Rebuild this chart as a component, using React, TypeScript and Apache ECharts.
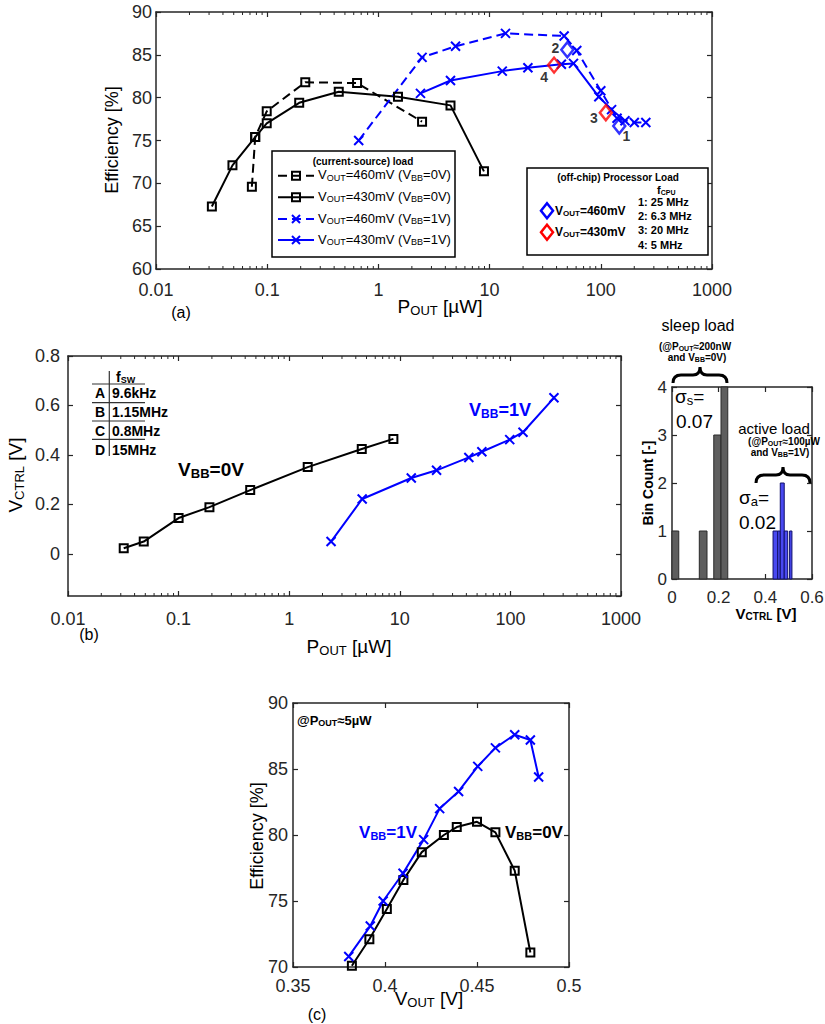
import React, { useEffect, useRef } from "react";
import * as echarts from "echarts";

const FONT = "'Liberation Sans', Arial, Helvetica, sans-serif";
const BLUE = "#0000ff";
const BLACK = "#000000";
const RED = "#ff0000";
const AX = "#262626";

// ---------- (a) Efficiency [%] vs P_OUT [µW]
const aV460B0: number[][] = [[0.0728, 69.6], [0.078, 75.4], [0.099, 78.4], [0.22, 81.8], [0.643, 81.7], [2.47, 77.2]];
const aV430B0: number[][] = [[0.0318, 67.3], [0.0487, 72.1], [0.078, 75.4], [0.099, 77.0], [0.194, 79.4], [0.44, 80.7], [1.5, 80.1], [4.45, 79.1], [8.9, 71.4]];
const aV460B1: number[][] = [[0.665, 75.0], [2.47, 84.7], [4.94, 86.0], [13.9, 87.5], [46.8, 87.2], [60.8, 85.5], [100, 80.8], [140, 77.6], [200, 77.1], [254, 77.1]];
const aV430B1: number[][] = [[2.39, 80.5], [4.45, 82.0], [13.0, 83.1], [22.1, 83.5], [44.2, 83.9], [56.8, 84.0], [96, 80.1], [125, 78.6], [165, 77.3]];
const aProc460: number[][] = [[146.6, 76.7], [50, 85.6]];
const aProc460Names = ["1", "2"];
const aProc430: number[][] = [[111, 78.25], [38, 83.8]];
const aProc430Names = ["3", "4"];
const procLabelOffsets: Record<string, number[]> = { "1": [7, 10], "2": [-12, -2], "3": [-12, 5], "4": [-10, 12] };

// ---------- (b) V_CTRL [V] vs P_OUT [µW]
const bVbb0: number[][] = [[0.0319, 0.023], [0.0484, 0.05], [0.1, 0.145], [0.19, 0.189], [0.444, 0.258], [1.47, 0.351], [4.53, 0.424], [8.75, 0.465]];
const bVbb1: number[][] = [[2.39, 0.05], [4.57, 0.222], [12.7, 0.307], [21.5, 0.338], [42.1, 0.39], [55.2, 0.413], [98.6, 0.462], [130, 0.492], [247.6, 0.631]];

// ---------- histogram [binStart, binEnd, count]
const sleepBins: number[][] = [[0, 0.029, 1], [0.117, 0.15, 1], [0.179, 0.21, 3], [0.21, 0.239, 4]];
const activeBins: number[][] = [[0.433, 0.453, 1], [0.453, 0.464, 1], [0.464, 0.481, 2], [0.481, 0.496, 1], [0.504, 0.514, 1]];

// ---------- (c) Efficiency [%] vs V_OUT [V]
const cVoutB0 = [0.382, 0.3915, 0.401, 0.41, 0.42, 0.432, 0.439, 0.45, 0.46, 0.4705, 0.479];
const cEffB0 = [70.1, 72.1, 74.4, 76.6, 78.7, 80.0, 80.6, 81.0, 80.2, 77.3, 71.1];
const cVoutB1 = [0.3803, 0.392, 0.399, 0.4098, 0.421, 0.4297, 0.44, 0.4504, 0.46, 0.4705, 0.479, 0.4835];
const cEffB1 = [70.8, 73.1, 75.0, 77.1, 79.65, 82.0, 83.3, 85.2, 86.6, 87.6, 87.2, 84.4];

const minorLogValues: number[] = [];
for (let k = -2; k <= 2; k++) for (let m = 2; m <= 9; m++) minorLogValues.push(parseFloat((m * Math.pow(10, k)).toPrecision(3)));

let shapesRegistered = false;
function registerShapes() {
  if (shapesRegistered) return;
  shapesRegistered = true;
  echarts.graphic.registerShape(
    "brace",
    echarts.graphic.extendPath("M0,16 Q0,8 8,8 L20,8 Q27,8 27,0 Q27,8 34,8 L46,8 Q54,8 54,16", {}) as any
  );
}

const mkRich = (size: number, bold: boolean, color: string) => ({
  m: { fontSize: size, fontFamily: FONT, fontWeight: bold ? "bold" : "normal", fill: color },
  s: {
    fontSize: Math.round(size * 0.66),
    fontFamily: FONT,
    fontWeight: bold ? "bold" : "normal",
    fill: color,
    padding: [Math.round(size * 0.45), 0, 0, 0],
  },
});

type TO = { bold?: boolean; color?: string; align?: string; rot?: number };
const txt = (x: number, y: number, text: string, size: number, o: TO = {}) => ({
  type: "text",
  x,
  y,
  rotation: o.rot || 0,
  z: 100,
  silent: true,
  style: {
    text,
    fill: o.color || "#000",
    fontSize: size,
    fontFamily: FONT,
    fontWeight: o.bold ? "bold" : "normal",
    align: o.align || "center",
    textAlign: o.align || "center",
    verticalAlign: "middle",
    textVerticalAlign: "middle",
    rich: mkRich(size, !!o.bold, o.color || "#000"),
  },
});

const gline = (x1: number, y1: number, x2: number, y2: number, stroke: string, lw: number, dash?: number[]) => ({
  type: "line",
  z: 100,
  silent: true,
  shape: { x1, y1, x2, y2 },
  style: { stroke, lineWidth: lw, lineDash: dash },
});

const xMark = (cx: number, cy: number, color: string) => ({
  type: "group",
  z: 100,
  children: [gline(cx - 4, cy - 4, cx + 4, cy + 4, color, 2), gline(cx + 4, cy - 4, cx - 4, cy + 4, color, 2)],
});
const sqMark = (cx: number, cy: number) => ({
  type: "rect",
  z: 101,
  shape: { x: cx - 4, y: cy - 4, width: 8, height: 8 },
  style: { fill: "none", stroke: BLACK, lineWidth: 2 },
});
const diaMark = (cx: number, cy: number, color: string) => ({
  type: "polygon",
  z: 101,
  shape: { points: [[cx, cy - 7.5], [cx + 6, cy], [cx, cy + 7.5], [cx - 6, cy]] },
  style: { fill: "none", stroke: color, lineWidth: 2.5 },
});

const axLine = { show: true, onZero: false, lineStyle: { color: AX, width: 1.5 } };
const axTick = { show: true, inside: true, length: 5, lineStyle: { color: AX, width: 1.2 } };
const logFmt = (v: number) => String(parseFloat(Number(v).toPrecision(3)));

function xPair(grid: number, base: any, margin: number, size: number, fmt?: any) {
  return [
    {
      ...base,
      gridIndex: grid,
      position: "bottom",
      axisLine: axLine,
      axisTick: axTick,
      splitLine: { show: false },
      minorTick: { show: false },
      axisLabel: { show: true, fontFamily: FONT, fontSize: size, color: AX, margin, formatter: fmt },
    },
    {
      ...base,
      gridIndex: grid,
      position: "top",
      axisLine: axLine,
      axisTick: axTick,
      splitLine: { show: false },
      axisLabel: { show: false },
    },
  ];
}
function yPair(grid: number, base: any, margin: number, size: number, fmt?: any, extra: any = {}) {
  return [
    {
      ...base,
      gridIndex: grid,
      position: "left",
      axisLine: axLine,
      axisTick: axTick,
      splitLine: { show: false },
      axisLabel: { show: true, fontFamily: FONT, fontSize: size, color: AX, margin, formatter: fmt, ...extra },
    },
    {
      ...base,
      gridIndex: grid,
      position: "right",
      axisLine: axLine,
      axisTick: axTick,
      splitLine: { show: false },
      axisLabel: { show: false },
    },
  ];
}

const minorTicks = (axisIdx: number, yMin: number, yMax: number) => ({
  type: "custom",
  xAxisIndex: axisIdx,
  yAxisIndex: axisIdx,
  silent: true,
  z: 5,
  data: minorLogValues.map((v) => [v, yMin]),
  encode: { x: 0, y: 1 },
  renderItem: (_p: any, api: any) => {
    const v = api.value(0);
    const b = api.coord([v, yMin]);
    const t = api.coord([v, yMax]);
    return {
      type: "group",
      children: [
        { type: "line", shape: { x1: b[0], y1: b[1], x2: b[0], y2: b[1] - 3 }, style: { stroke: AX, lineWidth: 1 } },
        { type: "line", shape: { x1: t[0], y1: t[1], x2: t[0], y2: t[1] + 3 }, style: { stroke: AX, lineWidth: 1 } },
      ],
    };
  },
});

const histSeries = (data: number[][], fill: string, stroke: string) => ({
  type: "custom",
  xAxisIndex: 4,
  yAxisIndex: 4,
  silent: true,
  data,
  encode: { x: [0, 1], y: 2 },
  renderItem: (_p: any, api: any) => {
    const p0 = api.coord([api.value(0), api.value(2)]);
    const p1 = api.coord([api.value(1), 0]);
    return {
      type: "rect",
      shape: { x: p0[0], y: p0[1], width: p1[0] - p0[0], height: p1[1] - p0[1] },
      style: { fill, stroke, lineWidth: 1 },
    };
  },
});

const sqSym = (color: string) => ({
  symbol: "rect",
  symbolSize: 8,
  itemStyle: { color: "rgba(0,0,0,0)", borderColor: color, borderWidth: 2 },
});
const xSym = (color: string) => ({
  symbol: "path://M0,0L10,10M10,0L0,10",
  symbolSize: 9,
  itemStyle: { color: "rgba(0,0,0,0)", borderColor: color, borderWidth: 2 },
});

const lineSeries = (xi: number, data: number[][], color: string, dashed: boolean, sym: any, z = 3) => ({
  type: "line",
  xAxisIndex: xi,
  yAxisIndex: xi,
  data,
  z,
  silent: true,
  showSymbol: true,
  ...sym,
  lineStyle: { color, width: 2, type: dashed ? [9, 5] : "solid" },
});

const procSeries = (pts: number[][], names: string[], color: string) => ({
  type: "scatter",
  xAxisIndex: 0,
  yAxisIndex: 0,
  z: 6,
  silent: true,
  symbol: "diamond",
  symbolSize: [12, 15],
  itemStyle: { color: "rgba(0,0,0,0)", borderColor: color, borderWidth: 2.5 },
  data: pts.map((p, i) => ({
    name: names[i],
    value: p,
    label: { offset: procLabelOffsets[names[i]] },
  })),
  label: {
    show: true,
    position: "inside",
    formatter: "{b}",
    fontFamily: FONT,
    fontWeight: "bold",
    fontSize: 14,
    color: "#000",
  },
});

function buildOption() {
  const logBase = { type: "log", logBase: 10, min: 0.01, max: 1000 };
  const xAxis = [
    ...xPair(0, logBase, 12, 18, logFmt),
    ...xPair(1, logBase, 14, 18, logFmt),
    ...xPair(2, { type: "value", min: 0, max: 0.6, interval: 0.2 }, 10, 17, (v: number) => String(parseFloat(v.toFixed(1)))),
    ...xPair(3, { type: "value", min: 0.35, max: 0.5, interval: 0.05 }, 10, 18, (v: number) => String(parseFloat(v.toFixed(2)))),
  ];
  const yAxis = [
    ...yPair(0, { type: "value", min: 60, max: 90, interval: 5 }, 4, 18),
    ...yPair(1, { type: "value", min: -0.17, max: 0.8, splitNumber: 5 }, 8, 18,
      (v: number) => (v < -0.01 ? "" : String(parseFloat(v.toFixed(1)))), { showMinLabel: false }),
    ...yPair(2, { type: "value", min: 0, max: 4, interval: 1 }, 5, 17),
    ...yPair(3, { type: "value", min: 70, max: 90, interval: 5 }, 5, 18),
  ];

  const cB0 = cVoutB0.map((v, i) => [v, cEffB0[i]]);
  const cB1 = cVoutB1.map((v, i) => [v, cEffB1[i]]);

  const series: any[] = [
    minorTicks(0, 60, 90),
    lineSeries(0, aV430B0, BLACK, false, sqSym(BLACK)),
    lineSeries(0, aV460B0, BLACK, true, sqSym(BLACK)),
    lineSeries(0, aV430B1, BLUE, false, xSym(BLUE)),
    lineSeries(0, aV460B1, BLUE, true, xSym(BLUE)),
    procSeries(aProc460, aProc460Names, BLUE),
    procSeries(aProc430, aProc430Names, RED),
    minorTicks(2, -0.17, 0.8),
    lineSeries(2, bVbb0, BLACK, false, sqSym(BLACK)),
    lineSeries(2, bVbb1, BLUE, false, xSym(BLUE)),
    histSeries(sleepBins, "#5e5e5e", "#2a2a2a"),
    histSeries(activeBins, "#4848f0", "#10106a"),
    lineSeries(6, cB0, BLACK, false, sqSym(BLACK)),
    lineSeries(6, cB1, BLUE, false, xSym(BLUE)),
  ];

  const els: any[] = [];
  // (a) titles
  els.push(txt(112, 140, "Efficiency [%]", 18, { rot: Math.PI / 2 }));
  els.push(txt(440, 306, "{m|P}{s|OUT}{m| [µW]}", 19));
  els.push(txt(181, 312, "(a)", 16));
  // (a) left legend
  els.push({ type: "rect", z: 99, shape: { x: 272, y: 151, width: 183, height: 106 }, style: { fill: "#fff", stroke: "#000", lineWidth: 1.5 } });
  els.push(txt(363, 161, "(current-source) load", 10, { bold: true }));
  const legRows = [175.7, 197.3, 219, 240];
  const legTexts = [
    "{m|V}{s|OUT}{m|=460mV (V}{s|BB}{m|=0V)}",
    "{m|V}{s|OUT}{m|=430mV (V}{s|BB}{m|=0V)}",
    "{m|V}{s|OUT}{m|=460mV (V}{s|BB}{m|=1V)}",
    "{m|V}{s|OUT}{m|=430mV (V}{s|BB}{m|=1V)}",
  ];
  const legColors = [BLACK, BLACK, BLUE, BLUE];
  const legDash = [true, false, true, false];
  legRows.forEach((y, i) => {
    els.push(gline(278, y, 314, y, legColors[i], 2, legDash[i] ? [9, 5] : undefined));
    els.push(i < 2 ? sqMark(296, y) : xMark(296, y, BLUE));
    els.push(txt(318, y - 1, legTexts[i], 13, { align: "left" }));
  });
  // (a) right legend
  els.push({ type: "rect", z: 99, shape: { x: 527, y: 168, width: 181, height: 87 }, style: { fill: "#fff", stroke: "#000", lineWidth: 1.5 } });
  els.push(txt(618, 177, "(off-chip) Processor Load", 10, { bold: true }));
  els.push(txt(657, 190, "{m|f}{s|CPU}", 11, { bold: true, align: "left" }));
  ["1: 25 MHz", "2: 6.3 MHz", "3: 20 MHz", "4: 5 MHz"].forEach((t, i) => {
    els.push(txt(638, 202 + i * 14.2, t, 11, { bold: true, align: "left" }));
  });
  els.push(diaMark(547, 210.7, BLUE));
  els.push(txt(555, 210.5, "{m|V}{s|OUT}{m|=460mV}", 12, { bold: true, align: "left" }));
  els.push(diaMark(547, 232.3, RED));
  els.push(txt(555, 232, "{m|V}{s|OUT}{m|=430mV}", 12, { bold: true, align: "left" }));

  // (b) titles
  els.push(txt(15, 475, "{m|V}{s|CTRL}{m| [V]}", 19, { rot: Math.PI / 2 }));
  els.push(txt(349, 646, "{m|P}{s|OUT}{m| [µW]}", 19));
  els.push(txt(89, 634, "(b)", 16));
  els.push(txt(211, 469, "{m|V}{s|BB}{m|=0V}", 19, { bold: true }));
  els.push(txt(500, 410, "{m|V}{s|BB}{m|=1V}", 18, { bold: true, color: BLUE }));
  // (b) f_sw table
  els.push(gline(109.3, 371, 109.3, 456, "#333", 1.2));
  [384, 402.7, 421, 439.3].forEach((y) => els.push(gline(92, y, 145, y, "#333", 1.2)));
  els.push(txt(116, 377, "{m|f}{s|SW}", 14, { bold: true, align: "left" }));
  const tblRows = [393.3, 412.3, 431, 450.3];
  const tblKeys = ["A", "B", "C", "D"];
  const tblVals = ["9.6kHz", "1.15MHz", "0.8MHz", "15MHz"];
  tblRows.forEach((y, i) => {
    els.push(txt(100, y, tblKeys[i], 14, { bold: true }));
    els.push(txt(112, y, tblVals[i], 14, { bold: true, align: "left" }));
  });

  // histogram texts
  els.push(txt(698, 325, "sleep load", 16));
  els.push(txt(695, 346, "{m|(@P}{s|OUT}{m|≈200nW}", 10, { bold: true }));
  els.push(txt(697, 357, "{m|and V}{s|BB}{m|=0V)}", 10, { bold: true }));
  els.push({ type: "brace", z: 100, x: 673, y: 367, style: { fill: "none", stroke: "#000", lineWidth: 3 } });
  els.push(txt(675, 396, "{m|σ}{s|s}{m|=}", 19, { align: "left" }));
  els.push(txt(676, 421, "0.07", 19, { align: "left" }));
  els.push(txt(774, 428, "active load", 15));
  els.push(txt(784, 441, "{m|(@P}{s|OUT}{m|≈100µW}", 10, { bold: true }));
  els.push(txt(780, 452, "{m|and V}{s|BB}{m|=1V)}", 10, { bold: true }));
  els.push({ type: "brace", z: 100, x: 756, y: 467, style: { fill: "none", stroke: "#000", lineWidth: 3 } });
  els.push(txt(739, 497, "{m|σ}{s|a}{m|=}", 19, { align: "left" }));
  els.push(txt(739, 522, "0.02", 19, { align: "left" }));
  els.push(txt(648, 483, "Bin Count [-]", 14, { bold: true, rot: Math.PI / 2 }));
  els.push(txt(766, 613, "{m|V}{s|CTRL}{m| [V]}", 15, { bold: true }));

  // (c) texts
  els.push(txt(297, 720, "{m|@P}{s|OUT}{m|≈5µW}", 13, { bold: true, align: "left" }));
  els.push(txt(388, 832, "{m|V}{s|BB}{m|=1V}", 17, { bold: true, color: BLUE }));
  els.push(txt(505, 832, "{m|V}{s|BB}{m|=0V}", 17, { bold: true, align: "left" }));
  els.push(txt(257, 836, "Efficiency [%]", 18, { rot: Math.PI / 2 }));
  els.push(txt(429, 998, "{m|V}{s|OUT}{m| [V]}", 19));
  els.push(txt(317, 1014, "(c)", 16));

  return {
    animation: false,
    backgroundColor: "#fff",
    grid: [
      { left: 156, top: 12, width: 556, height: 257, outerBoundsMode: "none" },
      { left: 68, top: 356, width: 553, height: 240, outerBoundsMode: "none" },
      { left: 672, top: 387, width: 140, height: 192, outerBoundsMode: "none" },
      { left: 293, top: 703, width: 276, height: 264, outerBoundsMode: "none" },
    ],
    xAxis,
    yAxis,
    series,
    graphic: { elements: els },
  };
}

export default function App() {
  const ref = useRef<HTMLDivElement>(null);
  useEffect(() => {
    if (!ref.current) return;
    registerShapes();
    const chart = echarts.init(ref.current, undefined, { renderer: "svg" });
    chart.setOption(buildOption() as any);
    return () => chart.dispose();
  }, []);
  return (
    <div
      ref={ref}
      style={{ position: "absolute", left: 0, top: 0, width: 825, height: 1024, background: "#fff" }}
    />
  );
}
